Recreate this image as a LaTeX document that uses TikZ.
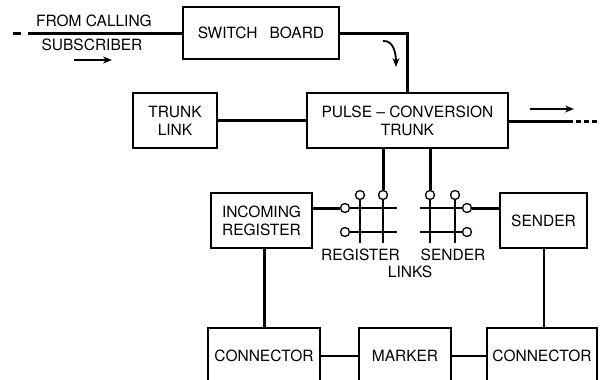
\documentclass[tikz,border=0pt]{standalone}
\usepackage{fontspec}
\setmainfont{TeX Gyre Heros}
\usetikzlibrary{arrows.meta}
\begin{document}
\begin{tikzpicture}[x=1pt, y=-1pt,
    blocco/.style={draw, line width=1.3pt, inner sep=0pt, align=center,
        font=\fontsize{15.5}{18}\selectfont},
    etichetta/.style={inner sep=0pt, align=center, font=\fontsize{15.5}{18}\selectfont},
    spesso/.style={line width=3pt},
    medio/.style={line width=2pt},
    filo/.style={line width=1.2pt},
    contatto/.style={draw, circle, fill=white, line width=1.3pt, minimum size=9pt, inner sep=0pt},
    freccia/.style={line width=1.8pt, -{Stealth[length=9pt, width=7pt]}}]
    \useasboundingbox (0,0) rectangle (608,380);
    \clip (0,0) rectangle (608,380);

    % Blocchi
    \node[blocco, minimum width=156pt, minimum height=52pt] (switch) at (261,33) {SWITCH\hspace{12pt}BOARD};
    \node[blocco, minimum width=201pt, minimum height=55pt] (pulse) at (407.5,120.5) {PULSE -- CONVERSION\\TRUNK};
    \node[blocco, minimum width=84pt, minimum height=55pt] (trunk) at (175,120.5) {TRUNK\\LINK};
    \node[blocco, minimum width=101pt, minimum height=55pt] (reg) at (261.5,220.5) {INCOMING\\REGISTER};
    \node[blocco, minimum width=87pt, minimum height=55pt] (sender) at (543.5,220.5) {SENDER};
    \node[blocco, minimum width=112pt, minimum height=56pt] (conn1) at (264,356) {CONNECTOR};
    \node[blocco, minimum width=92pt, minimum height=56pt] (marker) at (405,356) {MARKER};
    \node[blocco, minimum width=110pt, minimum height=56pt] (conn2) at (542,356) {CONNECTOR};

    % Abbonato chiamante
    \node[etichetta] (from) at (94,21) {FROM CALLING};
    \node[etichetta] (subscr) at (92,45) {SUBSCRIBER};
    \coordinate (inizio) at (28,33);
    \draw[spesso] (inizio) -- (switch.west);
    \draw[spesso] (13,33) -- (21,33);
    \draw[freccia] (74,60) -- (112,60);

    % Verso il trunk
    \draw[spesso] (switch.east) -| (pulse.north);
    \draw[freccia] (383,41) to[out=5, in=90] (396,67);
    \draw[spesso] (trunk.east) -- (pulse.west);

    % Uscita
    \coordinate (uscita) at (573,121);
    \draw[spesso] (pulse.east |- uscita) -- (uscita);
    \draw[spesso, dash pattern=on 5pt off 3pt] (576,121) -- (598,121);
    \draw[freccia] (530,109) -- (574,109);

    % Register links
    \node[contatto] (r1) at (360,195) {};
    \node[contatto] (r2) at (383,195) {};
    \node[contatto] (rl1) at (345,208) {};
    \node[contatto] (rl2) at (345,232) {};
    \draw[filo] (rl1) -- (397,208);
    \draw[filo] (rl2) -- (397,232);
    \draw[filo] (r1) -- (360,243);
    \draw[filo] (r2) -- (383,243);

    % Sender links
    \node[contatto] (s1) at (430,195) {};
    \node[contatto] (s2) at (455,195) {};
    \node[contatto] (sr1) at (467,208) {};
    \node[contatto] (sr2) at (467,232) {};
    \draw[filo] (420,208) -- (sr1);
    \draw[filo] (420,232) -- (sr2);
    \draw[filo] (s1) -- (430,243);
    \draw[filo] (s2) -- (455,243);

    \node[etichetta] (reglab) at (360.5,255) {REGISTER};
    \node[etichetta] (sendlab) at (453,255) {SENDER};
    \node[etichetta] (links) at (410,272) {LINKS};

    % Collegamenti
    \draw[spesso] (pulse.south -| r2) -- (r2);
    \draw[spesso] (pulse.south -| s1) -- (s1);
    \draw[spesso] (reg.east |- rl1) -- (rl1);
    \draw[spesso] (sr1) -- (sr1 -| sender.west);
    \draw[spesso] (conn1.north |- reg.south) -- (conn1.north);
    \draw[medio] (sender.south) -- (sender.south |- conn2.north);
    \draw[medio] (conn1) -- (marker);
    \draw[filo] (marker) -- (conn2);
\end{tikzpicture}
\end{document}
